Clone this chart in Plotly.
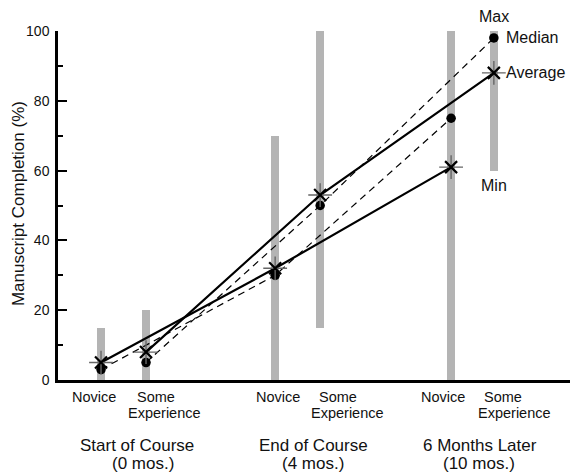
import plotly.graph_objects as go

# ---- data ----
levels = ["Novice", "Some Experience", "Novice", "Some Experience", "Novice", "Some Experience"]
groups = ["Start of Course", "End of Course", "6 Months Later"]
group_sub = ["(0 mos.)", "(4 mos.)", "(10 mos.)"]
x_pos = [0, 1, 3.87, 4.87, 7.78, 8.73]
min_vals = [0, 0, 0, 15, 0, 60]
max_vals = [15, 20, 70, 100, 100, 100]
median_vals = [3, 5, 30, 50, 75, 98]
average_vals = [5, 8, 32, 53, 61, 88]

FONT = "Liberation Sans, Arial, Helvetica, sans-serif"
nov = [0, 2, 4]
some = [1, 3, 5]

fig = go.Figure()

# range bars
fig.add_trace(go.Bar(
    x=x_pos, base=min_vals, y=[mx - mn for mx, mn in zip(max_vals, min_vals)],
    width=0.18, marker=dict(color="#b4b4b4", line=dict(width=0)), showlegend=False,
    hoverinfo="skip"))

# median dashed lines
for idx in (nov, some):
    fig.add_trace(go.Scatter(
        x=[x_pos[i] for i in idx], y=[median_vals[i] for i in idx], mode="lines",
        line=dict(color="black", width=1.2, dash="7px,5px"), showlegend=False))
# average solid lines
for idx in (nov, some):
    fig.add_trace(go.Scatter(
        x=[x_pos[i] for i in idx], y=[average_vals[i] for i in idx], mode="lines",
        line=dict(color="black", width=2.2), showlegend=False))

# median dots
fig.add_trace(go.Scatter(x=x_pos, y=median_vals, mode="markers",
                         marker=dict(symbol="circle", size=9.5, color="black"), showlegend=False))
# average stars (gray plus + black x)
fig.add_trace(go.Scatter(x=x_pos, y=average_vals, mode="markers",
                         marker=dict(symbol="cross-thin-open", size=17, color="#666666",
                                     line=dict(color="#666666", width=1.4)), showlegend=False))
fig.add_trace(go.Scatter(x=x_pos, y=average_vals, mode="markers",
                         marker=dict(symbol="x-thin-open", size=12, color="black",
                                     line=dict(color="black", width=2.2)), showlegend=False))

ann = []
# level labels
nov_shift = [-7, 3, -8]
some_shift = [10, 18, 9]
exp_shift = [18, 27, 21]
for k, i in enumerate(nov):
    ann.append(dict(x=x_pos[i], y=0, xref="x", yref="paper", text=levels[i], showarrow=False,
                    xanchor="center", yanchor="middle", xshift=nov_shift[k], yshift=-17,
                    font=dict(size=14.5)))
for k, i in enumerate(some):
    w1, w2 = levels[i].split(" ")
    ann.append(dict(x=x_pos[i], y=0, xref="x", yref="paper", text=w1, showarrow=False,
                    xanchor="center", yanchor="middle", xshift=some_shift[k], yshift=-17,
                    font=dict(size=14.5)))
    ann.append(dict(x=x_pos[i], y=0, xref="x", yref="paper", text=w2, showarrow=False,
                    xanchor="center", yanchor="middle", xshift=exp_shift[k], yshift=-33,
                    font=dict(size=14.5)))
# group labels
g_x = [0.152, 0.492, 0.8115]
s_x = [0.163, 0.490, 0.810]
for k in range(3):
    ann.append(dict(x=g_x[k], y=0, xref="paper", yref="paper", text=groups[k], showarrow=False,
                    xanchor="center", yanchor="middle", yshift=-65, font=dict(size=17)))
    ann.append(dict(x=s_x[k], y=0, xref="paper", yref="paper", text=group_sub[k], showarrow=False,
                    xanchor="center", yanchor="middle", yshift=-83, font=dict(size=17)))

# key labels on the last bar
last = 5
ann.append(dict(x=x_pos[last], y=max_vals[last], xref="x", yref="y", text="Max", showarrow=False,
                xanchor="center", yanchor="middle", yshift=15, font=dict(size=16)))
ann.append(dict(x=x_pos[last], y=min_vals[last], xref="x", yref="y", text="Min", showarrow=False,
                xanchor="center", yanchor="middle", yshift=-15, font=dict(size=16)))
ann.append(dict(x=x_pos[last], y=median_vals[last], xref="x", yref="y", text="Median", showarrow=False,
                xanchor="left", yanchor="middle", xshift=10, font=dict(size=16)))
ann.append(dict(x=x_pos[last], y=average_vals[last], xref="x", yref="y", text="Average", showarrow=False,
                xanchor="left", yanchor="middle", xshift=10, font=dict(size=16)))
# y title
ann.append(dict(x=0, y=0.504, xref="paper", yref="paper", text="Manuscript Completion (%)",
                showarrow=False, textangle=-90, xanchor="center", yanchor="middle", xshift=-40,
                font=dict(size=17)))

# page body has an 8px margin, so the figure is 8px smaller and margins shifted
fig.update_layout(
    width=570, height=467,
    margin=dict(l=50, r=0, t=23, b=95),
    paper_bgcolor="white", plot_bgcolor="white",
    font=dict(family=FONT, color="#111111"),
    annotations=ann,
    bargap=0,
    xaxis=dict(range=[-0.956, 10.6], showgrid=False, zeroline=False, showticklabels=False,
               ticks="", showline=True, linecolor="black", linewidth=2.5, automargin=False),
    yaxis=dict(range=[0, 100], showgrid=False, zeroline=False, showline=True, linecolor="black",
               linewidth=2.5, ticks="inside", ticklen=9, tickwidth=1.5, tickcolor="black",
               dtick=20, tick0=0, tickfont=dict(size=14), ticklabelstandoff=3, automargin=False,
               minor=dict(ticks="inside", ticklen=5, tickwidth=1.5, dtick=10, tickcolor="black")),
)

fig.write_html("out.html")
